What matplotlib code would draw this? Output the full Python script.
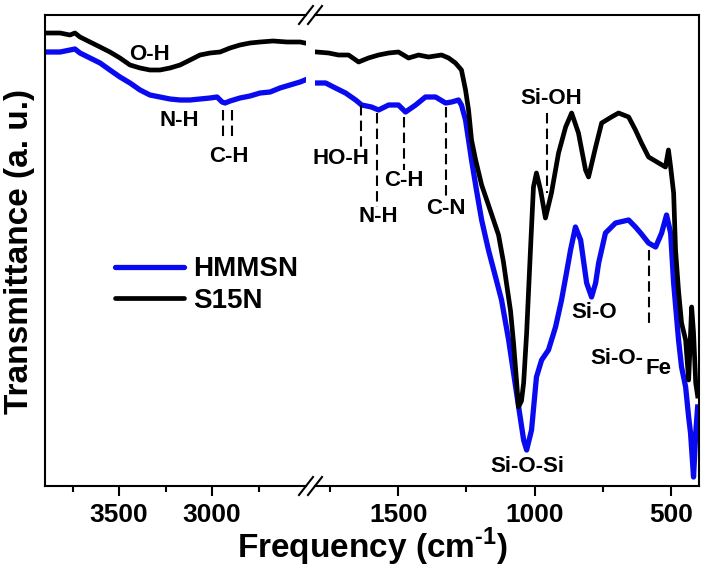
import matplotlib
matplotlib.use('Agg')
import matplotlib.pyplot as plt
from matplotlib.lines import Line2D

plt.rcParams['font.family'] = ['Liberation Sans', 'DejaVu Sans']
plt.rcParams['font.weight'] = 'bold'
plt.rcParams['mathtext.fontset'] = 'custom'
plt.rcParams['mathtext.bf'] = 'Liberation Sans:bold'
plt.rcParams['mathtext.rm'] = 'Liberation Sans:bold'

# ---------------- data (wavenumber cm-1, transmittance a.u.) ----------------
s15n_hi_wn = [3898, 3817, 3764, 3737, 3710, 3656, 3602, 3549, 3495, 3441, 3387, 3334,
              3280, 3226, 3172, 3118, 3065, 3011, 2957, 2903, 2850, 2796, 2742, 2672,
              2597, 2527, 2500]
s15n_hi_t = [453, 453, 451, 453, 449, 444, 439, 434, 428, 421, 418, 416,
             416, 418, 421, 426, 431, 433, 434, 438, 441, 443, 444, 445,
             444, 444, 443]
hmmsn_hi_wn = [3898, 3817, 3737, 3710, 3656, 3602, 3549, 3495, 3441, 3387, 3334, 3280,
               3226, 3172, 3118, 3065, 3011, 2973, 2946, 2930, 2903, 2850, 2796, 2742,
               2688, 2635, 2581, 2527, 2500]
hmmsn_hi_t = [434, 434, 437, 433, 428, 423, 416, 409, 403, 396, 391, 389,
              387, 386, 386, 387, 388, 389, 384, 383, 385, 388, 390, 393,
              394, 398, 401, 404, 406]

s15n_lo_wn = [1799, 1755, 1719, 1682, 1645, 1609, 1572, 1535, 1499, 1462, 1425, 1389,
              1341, 1315, 1290, 1268, 1253, 1242, 1231, 1216, 1194, 1169, 1132, 1114,
              1103, 1088, 1077, 1066, 1059, 1048, 1040, 1029, 1015, 1004, 993, 978,
              960, 938, 912, 886, 864, 839, 813, 802, 776, 754, 718, 692, 655, 630,
              608, 582, 545, 520, 509, 501, 490, 483, 472, 461, 446, 435, 424, 417,
              409, 402]
s15n_lo_t = [434, 433, 431, 431, 424, 428, 431, 433, 434, 428, 431, 429,
             431, 428, 423, 416, 396, 376, 346, 326, 301, 281, 251, 224,
             203, 175, 143, 105, 79, 85, 103, 153, 236, 299, 313, 296,
             268, 293, 333, 359, 373, 353, 316, 309, 339, 363, 369, 373, 369, 356,
             343, 329, 323, 319, 336, 319, 293, 236, 195, 163, 146, 106, 179, 153,
             103, 90]
hmmsn_lo_wn = [1799, 1766, 1730, 1693, 1656, 1634, 1598, 1572, 1535, 1499, 1473, 1436,
               1400, 1363, 1326, 1304, 1279, 1268, 1253, 1242, 1231, 1213, 1194, 1169,
               1143, 1121, 1095, 1066, 1040, 1029, 1011, 993, 974, 949, 923, 901,
               883, 868, 850, 831, 809, 791, 776, 765, 740, 703, 655, 630, 608, 582,
               556, 534, 516, 501, 490, 472, 461, 446, 435, 428, 417, 409, 402]
hmmsn_lo_t = [403, 403, 398, 393, 386, 381, 379, 376, 381, 381, 374, 381,
              389, 389, 383, 384, 386, 381, 366, 346, 326, 296, 266, 236,
              209, 186, 146, 93, 46, 36, 56, 109, 126, 136, 159, 186,
              213, 236, 259, 246, 203, 189, 203, 223, 253, 263, 266, 259, 252, 243,
              239, 253, 271, 253, 203, 146, 119, 99, 69, 53, 9, 53, 79]

series_names = ['HMMSN', 'S15N']

# band assignments: (label, x, y) and dashed markers (x, y0, y1)
hi_labels = [('O-H', 3334, 431), ('N-H', 3178, 366), ('C-H', 2909, 330)]
hi_marks = [(2941, 376, 346), (2893, 376, 346)]
lo_labels = [('HO-H', 1711, 328), ('N-H', 1572, 269), ('C-H', 1480, 305),
             ('C-N', 1326, 278), ('Si-OH', 938, 387), ('Si-O', 780, 173),
             ('Si-O-', 698, 128), ('Fe', 545, 118), ('Si-O-Si', 1026, 19)]
lo_marks = [(1638, 381, 339), (1579, 373, 279), (1480, 369, 316), (1326, 379, 286),
            (956, 373, 293), (582, 236, 161)]

# ---------------- figure ----------------
W, H = 713, 576
fig = plt.figure(figsize=(W / 100, H / 100), dpi=100)


def fx(px):
    return px / W


def fy(py):
    return 1 - py / H


axL = fig.add_axes([fx(45), fy(486), fx(306) - fx(45), fy(15) - fy(486)])
axR = fig.add_axes([fx(315), fy(486), fx(699) - fx(315), fy(15) - fy(486)])

blue = '#0a0af0'
for ax, wb, tb, wk, tk in [(axL, hmmsn_hi_wn, hmmsn_hi_t, s15n_hi_wn, s15n_hi_t),
                           (axR, hmmsn_lo_wn, hmmsn_lo_t, s15n_lo_wn, s15n_lo_t)]:
    ax.plot(wb, tb, color=blue, lw=3.8, solid_joinstyle='round')
    ax.plot(wk, tk, color='black', lw=3.4, solid_joinstyle='round')
    ax.set_ylim(0, 471)
    ax.set_yticks([])
    for s in ax.spines.values():
        s.set_linewidth(1.5)
    ax.tick_params(axis='x', which='major', direction='out', length=7, width=1.5,
                   labelsize=19, pad=5)
    ax.tick_params(axis='x', which='minor', direction='out', length=4.5, width=1.5)

axL.set_xlim(3898, 2495)
axR.set_xlim(1805, 397)
axL.set_xticks([3500, 3000])
axL.set_xticks([3750, 3250, 2750], minor=True)
axR.set_xticks([1500, 1000, 500])
axR.set_xticks([1750, 1250, 750], minor=True)
axL.spines['right'].set_visible(False)
axR.spines['left'].set_visible(False)

dash = dict(color='black', lw=1.5, dashes=(5, 2.5))
for ax, labels, marks in [(axL, hi_labels, hi_marks), (axR, lo_labels, lo_marks)]:
    for x, y0, y1 in marks:
        ax.plot([x, x], [y0, y1], **dash)
    for txt, x, y in labels:
        ax.text(x, y, txt, fontsize=16, fontweight='bold', ha='center', va='center')

# break marks
for yc in (15, 486):
    for x0 in (299, 308):
        fig.add_artist(Line2D([fx(x0), fx(x0 + 14)], [fy(yc + 9), fy(yc - 9)],
                              transform=fig.transFigure, color='black', lw=1.5))

# legend
handles = [Line2D([], [], color=blue, lw=3.8, solid_capstyle='round'),
           Line2D([], [], color='black', lw=3.4, solid_capstyle='round')]
fig.legend(handles, series_names, loc='center left',
           bbox_to_anchor=(fx(115), fy(285)), bbox_transform=fig.transFigure,
           frameon=False, prop={'weight': 'bold', 'size': 20},
           handlelength=2.5, handletextpad=0.3, labelspacing=0.2,
           borderpad=0, borderaxespad=0)

fig.text(fx(372), fy(547), r'Frequency (cm$^{\mathbf{\text{-}1}}$)', fontsize=24,
         fontweight='bold', ha='center', va='center')
fig.text(fx(20), fy(251), 'Transmittance (a. u.)', fontsize=24, fontweight='bold',
         ha='center', va='center', rotation=90)

fig.savefig('out.png', dpi=100)
